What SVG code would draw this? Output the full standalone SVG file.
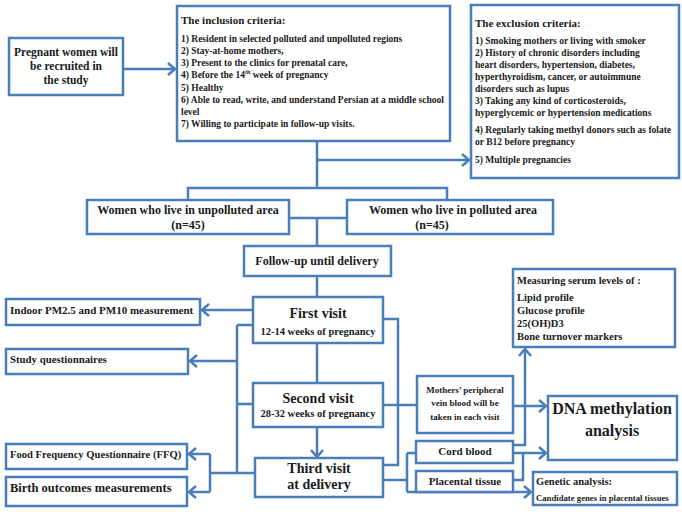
<svg xmlns="http://www.w3.org/2000/svg" width="682" height="512" viewBox="0 0 682 512">
<defs>
<marker id="ah" markerWidth="12" markerHeight="14" refX="9" refY="7" orient="auto" markerUnits="userSpaceOnUse">
<path d="M2,1 L9,7 L2,13" fill="none" stroke="#4a7ebb" stroke-width="2.5"/>
</marker>
<style>
.b{fill:#fff;stroke:#4a7ebb;stroke-width:2.5}
.c{fill:none;stroke:#4a7ebb;stroke-width:2.5}
.a{marker-end:url(#ah)}
text{font-family:"Liberation Serif","Times New Roman",serif;font-weight:bold;fill:#1a1a1a}
.m{text-anchor:middle}
</style>
</defs>
<rect width="682" height="512" fill="#fff"/>
<g id="connectors">
<path class="c a" d="M123,69 H175"/>
<path class="c" d="M317,141 V188 M188,200 V188 H447 V200"/>
<path class="c a" d="M317,160 H469"/>
<path class="c" d="M289,218 H347 M317,218 V246 M317,276 V297"/>
<path class="c a" d="M253,310 H202"/>
<path class="c" d="M237,325 V473 M237,325 H253 M237,404 H253 M210,473 H255"/>
<path class="c a" d="M237,361 H190"/>
<path class="c" d="M210,454 V492"/>
<path class="c a" d="M210,454 H189"/>
<path class="c a" d="M210,492 H189"/>
<path class="c" d="M317,343 V383"/>
<path class="c a" d="M317,427 V457"/>
<path class="c" d="M383,319 H398 V465 H383 M383,405 H417"/>
<path class="c" d="M383,480 H407 M407,453 V492 M407,453 H416"/>
<path class="c a" d="M407,492 H531"/>
<path class="c a" d="M513,406 H546"/>
<path class="c a" d="M513,445 H525 V349"/>
<path class="c a" d="M513,453 H546"/>
<path class="c" d="M513,480 H523 V453"/>
</g>
<g id="pregnant">
<rect class="b" x="9" y="38" width="114" height="57"/>
<text class="m" x="66" y="56" font-size="11.5">Pregnant women  will</text>
<text class="m" x="66" y="70" font-size="11.5">be recruited in</text>
<text class="m" x="66" y="84" font-size="11.5">the study</text>
</g>
<g id="inclusion">
<rect class="b" x="177" y="6" width="273" height="135"/>
<text x="181" y="24" font-size="11">The inclusion  criteria:</text>
<g font-size="9.5">
<text x="181" y="42">1) Resident in selected polluted and unpolluted regions</text>
<text x="181" y="54">2) Stay-at-home mothers,</text>
<text x="181" y="66">3) Present to the clinics for prenatal care,</text>
<text x="181" y="78">4) Before the 14<tspan font-size="6" dy="-4">th</tspan><tspan dy="4"> week of pregnancy</tspan></text>
<text x="181" y="91">5) Healthy</text>
<text x="181" y="103">6) Able to read, write, and understand Persian at a middle school</text>
<text x="181" y="115">level</text>
<text x="181" y="127">7) Willing to participate in follow-up visits.</text>
</g>
</g>
<g id="exclusion">
<rect class="b" x="471" y="5" width="208" height="173"/>
<text x="475" y="27" font-size="11">The exclusion  criteria:</text>
<g font-size="9.5">
<text x="475" y="44">1)   Smoking mothers or living with smoker</text>
<text x="475" y="56">2) History of chronic disorders including</text>
<text x="475" y="68">heart disorders, hypertension, diabetes,</text>
<text x="475" y="80">hyperthyroidism, cancer, or autoimmune</text>
<text x="475" y="92">disorders such as lupus</text>
<text x="475" y="104">3) Taking any kind of corticosteroids,</text>
<text x="475" y="116">hyperglycemic or hypertension medications</text>
<text x="475" y="133">4) Regularly taking methyl donors such as folate</text>
<text x="475" y="145">or B12 before pregnancy</text>
<text x="475" y="163">5) Multiple pregnancies</text>
</g>
</g>
<g id="unpolluted">
<rect class="b" x="87" y="200" width="202" height="34"/>
<text class="m" x="188" y="214" font-size="12">Women who live in unpolluted area</text>
<text class="m" x="188" y="229" font-size="12">(n=45)</text>
</g>
<g id="polluted">
<rect class="b" x="347" y="200" width="206" height="34"/>
<text class="m" x="453" y="214" font-size="12">Women who live in polluted area</text>
<text class="m" x="432" y="229" font-size="12">(n=45)</text>
</g>
<g id="followup">
<rect class="b" x="244" y="246" width="147" height="30"/>
<text class="m" x="317" y="265" font-size="12">Follow-up until delivery</text>
</g>
<g id="first">
<rect class="b" x="253" y="297" width="130" height="46"/>
<text class="m" x="318" y="318" font-size="14">First visit</text>
<text class="m" x="318" y="335" font-size="10.5">12-14 weeks of pregnancy</text>
</g>
<g id="second">
<rect class="b" x="253" y="383" width="130" height="44"/>
<text class="m" x="318" y="403" font-size="14">Second visit</text>
<text class="m" x="318" y="417" font-size="10.5">28-32 weeks of pregnancy</text>
</g>
<g id="third">
<rect class="b" x="255" y="458" width="128" height="39"/>
<text class="m" x="319" y="473" font-size="14">Third visit</text>
<text class="m" x="319" y="489" font-size="14">at delivery</text>
</g>
<g id="indoor">
<rect class="b" x="6" y="299" width="194" height="26"/>
<text x="10" y="314" font-size="11">Indoor PM2.5 and PM10 measurement</text>
</g>
<g id="questionnaires">
<rect class="b" x="6" y="349" width="182" height="25"/>
<text x="10" y="363" font-size="10.8">Study questionnaires</text>
</g>
<g id="ffq">
<rect class="b" x="6" y="444" width="181" height="25"/>
<text x="10" y="458" font-size="10.6">Food Frequency Questionnaire (FFQ)</text>
</g>
<g id="birth">
<rect class="b" x="6" y="477" width="181" height="29"/>
<text x="10" y="492" font-size="12.5">Birth outcomes measurements</text>
</g>
<g id="serum">
<rect class="b" x="513" y="269" width="162" height="78"/>
<text x="517" y="284" font-size="10.5">Measuring serum levels of :</text>
<text x="517" y="301" font-size="10.5">Lipid profile</text>
<text x="517" y="314" font-size="10.5">Glucose profile</text>
<text x="517" y="327" font-size="10.5">25(OH)D3</text>
<text x="517" y="340" font-size="10.5">Bone turnover markers</text>
</g>
<g id="mothers">
<rect class="b" x="417" y="376" width="96" height="57"/>
<text class="m" x="465" y="393" font-size="9">Mothers’ peripheral</text>
<text class="m" x="465" y="406" font-size="9">vein blood will be</text>
<text class="m" x="465" y="420" font-size="9">taken in each visit</text>
</g>
<g id="dna">
<rect class="b" x="548" y="396" width="129" height="64"/>
<text class="m" x="612" y="414" font-size="16">DNA methylation</text>
<text class="m" x="612" y="436" font-size="16">analysis</text>
</g>
<g id="cord">
<rect class="b" x="416" y="441" width="97" height="22"/>
<text class="m" x="465" y="455" font-size="11">Cord blood</text>
</g>
<g id="placental">
<rect class="b" x="416" y="471" width="97" height="21"/>
<text class="m" x="465" y="485" font-size="11">Placental tissue</text>
</g>
<g id="genetic">
<rect class="b" x="533" y="472" width="144" height="33"/>
<text x="536" y="485" font-size="10.5">Genetic analysis:</text>
<text x="536" y="501" font-size="8.7">Candidate genes in placental tissues</text>
</g>
</svg>
